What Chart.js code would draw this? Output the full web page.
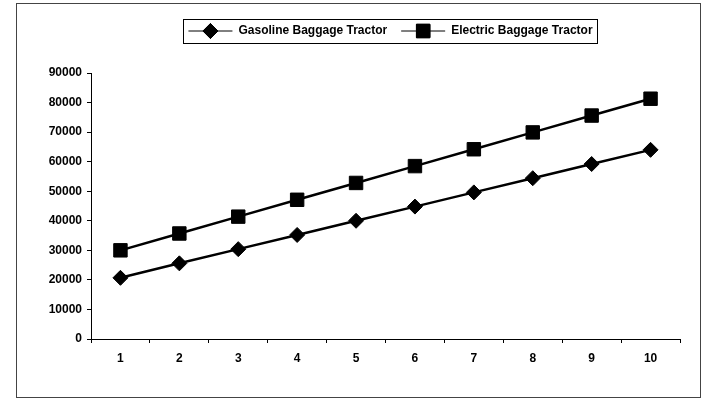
<!DOCTYPE html>
<html>
<head>
<meta charset="utf-8">
<script src="https://cdn.jsdelivr.net/npm/chart.js@4"></script>
<style>
  html, body { margin: 0; padding: 0; background: #fff; }
  #frame {
    position: absolute; left: 16px; top: 3px;
    width: 683px; height: 393px;
    border: 1px solid #444;
  }
  canvas { display: block; }
</style>
</head>
<body>
<div id="frame"><canvas id="c" width="683" height="393"></canvas></div>
<script>
// Year index along the horizontal axis
const categories = ['1', '2', '3', '4', '5', '6', '7', '8', '9', '10'];
// Cumulative cost per tractor type
const gasolineValues = [20700, 25600, 30400, 35200, 40000, 44800, 49600, 54400, 59200, 64000];
const electricValues = [30000, 35700, 41400, 47100, 52800, 58500, 64200, 69900, 75600, 81300];
const seriesNames = ['Gasoline Baggage Tractor', 'Electric Baggage Tractor'];
const yTicks = [0, 10000, 20000, 30000, 40000, 50000, 60000, 70000, 80000, 90000];

const FONT = 'Liberation Sans, Arial, sans-serif';
const LEGEND_SAMPLE = 44;
const LEGEND_SHIFT = 5;

// Fixes the legend band height, nudges it sideways and draws the framed legend
// with line + marker samples
const legendPlugin = {
  id: 'legendFrame',
  beforeLayout(chart) {
    const lg = chart.legend;
    if (lg && !lg._fitWrapped) {
      const orig = lg.fit;
      lg.fit = function () { orig.call(this); this.height = 62; };
      lg._fitWrapped = true;
    }
  },
  afterLayout(chart) {
    const lg = chart.legend;
    if (lg) { lg.left += LEGEND_SHIFT; lg.right += LEGEND_SHIFT; }
  },
  afterDraw(chart) {
    const lg = chart.legend;
    if (!lg || !lg.legendHitBoxes || !lg.legendHitBoxes.length) return;
    const ctx = chart.ctx;
    const boxes = lg.legendHitBoxes;
    let left = Infinity, right = -Infinity, cy = 0;
    boxes.forEach(b => {
      left = Math.min(left, b.left);
      right = Math.max(right, b.left + b.width);
      cy = b.top + b.height / 2;
    });
    ctx.save();
    ctx.strokeStyle = '#000';
    ctx.lineWidth = 1;
    ctx.strokeRect(Math.round(left - 5) + 0.5, Math.round(cy - 12) + 0.5,
                   Math.round(right - left + 10), 24);
    boxes.forEach((b, i) => {
      const ds = chart.data.datasets[i];
      const x = b.left + LEGEND_SAMPLE / 2;
      const y = b.top + b.height / 2;
      Chart.helpers.drawPoint(ctx, {
        pointStyle: ds.pointStyle,
        radius: ds.pointRadius,
        rotation: 0,
        borderWidth: 1
      }, x, y);
      ctx.fillStyle = '#000';
      ctx.strokeStyle = '#000';
      ctx.fill();
      ctx.stroke();
    });
    ctx.restore();
  }
};

new Chart(document.getElementById('c'), {
  type: 'line',
  data: {
    labels: categories,
    datasets: [
      {
        label: seriesNames[0],
        data: gasolineValues,
        borderColor: '#000',
        backgroundColor: '#000',
        borderWidth: 2.5,
        pointStyle: 'rectRot',
        pointRadius: 7.5,
        pointBorderWidth: 1,
        tension: 0
      },
      {
        label: seriesNames[1],
        data: electricValues,
        borderColor: '#000',
        backgroundColor: '#000',
        borderWidth: 2.5,
        pointStyle: 'rect',
        pointRadius: 9.5,
        pointBorderWidth: 1,
        tension: 0
      }
    ]
  },
  options: {
    responsive: false,
    animation: false,
    devicePixelRatio: 1,
    layout: { padding: { top: 7, left: 0, right: 20, bottom: 0 } },
    plugins: {
      tooltip: { enabled: false },
      legend: {
        display: true,
        position: 'top',
        fullSize: false,
        labels: {
          usePointStyle: true,
          pointStyle: 'line',
          pointStyleWidth: LEGEND_SAMPLE,
          padding: 14,
          color: '#000',
          font: { family: FONT, size: 12, weight: 'bold' }
        }
      }
    },
    scales: {
      x: {
        type: 'category',
        offset: true,
        afterFit(scale) { scale.height = 58; },
        border: { display: true, color: '#000', width: 1 },
        grid: {
          offset: true,
          drawOnChartArea: false,
          drawTicks: true,
          tickLength: 4,
          color: '#000'
        },
        ticks: {
          color: '#000',
          padding: 8,
          maxRotation: 0,
          font: { family: FONT, size: 12, weight: 'bold' }
        }
      },
      y: {
        min: 0,
        max: 90000,
        afterFit(scale) { scale.width = 74; },
        afterBuildTicks(scale) { scale.ticks = yTicks.map(v => ({ value: v })); },
        border: { display: true, color: '#000', width: 1 },
        grid: {
          drawOnChartArea: false,
          drawTicks: true,
          tickLength: 4,
          color: '#000'
        },
        ticks: {
          color: '#000',
          padding: 5,
          font: { family: FONT, size: 12, weight: 'bold' },
          callback: v => String(v)
        }
      }
    }
  },
  plugins: [legendPlugin]
});
</script>
</body>
</html>
